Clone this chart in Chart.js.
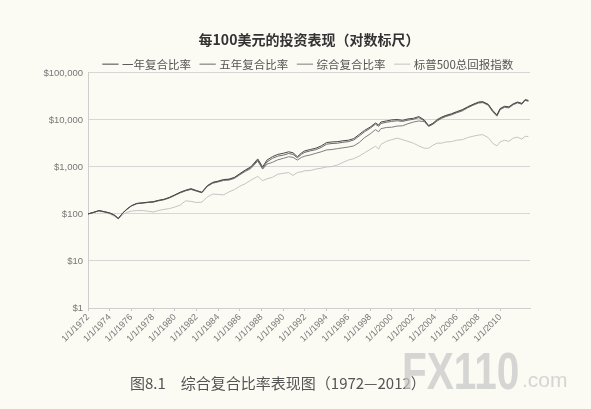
<!DOCTYPE html>
<html><head><meta charset="utf-8">
<script src="https://cdn.jsdelivr.net/npm/chart.js@4.4.1/dist/chart.umd.min.js"></script>
<style>
html,body{margin:0;padding:0;background:#fbfaf3;}
#wrap{position:relative;width:591px;height:409px;overflow:hidden;background:#fbfaf3;}
#c{position:absolute;left:0;top:0;}
#caption{position:absolute;left:130px;top:372px;font:15px "Noto Sans CJK SC",sans-serif;color:#555;white-space:nowrap;}
#wm{position:absolute;left:402px;top:345px;white-space:nowrap;color:rgba(200,200,200,0.75);}
#wm b{display:inline-block;font:bold 52px/1 "Liberation Sans",Arial,sans-serif;transform:scaleX(0.78);transform-origin:left center;}
#wm i{position:absolute;left:120px;top:24px;font:normal 21px/1 "Liberation Sans",Arial,sans-serif;font-style:normal;}
</style></head>
<body><div id="wrap"><canvas id="c" width="591" height="409"></canvas>
<div id="caption">图8.1　综合复合比率表现图（1972—2012）</div>
<div id="wm"><b>FX110</b><i>.com</i></div></div>
<script>
const years = [1972.0,1972.5,1973.0,1973.5,1974.0,1974.4,1974.8,1975.2,1975.6,1976.0,
1976.5,1977.0,1977.5,1978.0,1978.5,1979.0,1979.5,1980.0,1980.5,1981.0,
1981.5,1982.0,1982.5,1983.0,1983.5,1984.0,1984.5,1985.0,1985.5,1986.0,
1986.5,1987.0,1987.65,1988.1,1988.5,1989.0,1989.5,1990.0,1990.5,1990.9,
1991.3,1991.7,1992.0,1992.5,1993.0,1993.5,1994.0,1994.5,1995.0,1995.5,
1996.0,1996.5,1997.0,1997.5,1998.0,1998.5,1998.8,1999.0,1999.5,2000.0,
2000.5,2001.0,2001.5,2002.0,2002.5,2003.0,2003.4,2003.8,2004.2,2004.6,
2005.0,2005.5,2006.0,2006.5,2007.0,2007.5,2008.0,2008.4,2008.9,2009.3,
2009.7,2010.0,2010.4,2010.8,2011.2,2011.6,2012.0,2012.3,2012.6];

const oneYear = [100,108,118,112,105,95,80,105,128,150,
168,172,178,182,195,205,225,255,290,320,
345,315,290,400,470,500,540,550,600,720,
860,1000,1480,1000,1400,1650,1850,1950,2100,2000,
1650,2000,2200,2350,2500,2800,3300,3400,3450,3600,
3700,4000,4900,6000,7000,8600,7800,9000,9500,10000,
10200,9800,10500,10800,11800,10000,7600,8500,10200,11500,
12500,13500,15000,16500,19000,21500,24000,24500,21500,16000,
12800,17500,19500,19000,22000,24000,22500,27000,26000];

const fiveYear = [100,107,117,111,104,96,81,104,126,148,
166,171,176,180,193,203,222,250,285,315,
338,310,286,392,460,490,530,540,590,700,
830,960,1400,930,1280,1520,1700,1780,1930,1850,
1560,1870,2050,2200,2330,2600,3050,3150,3200,3350,
3450,3750,4550,5600,6600,8100,7300,8400,8900,9300,
9600,9300,9900,10300,11200,9600,7300,8200,9800,11000,
12100,13100,14500,16000,18500,21000,23300,23800,21000,15500,
12300,17000,19000,18500,21500,23500,22000,26500,25500];

const composite = [100,108,117,112,105,95,80,104,127,148,
165,170,175,178,190,200,218,248,280,310,
332,305,282,385,450,480,515,525,570,680,
800,920,1330,900,1150,1250,1420,1520,1650,1600,
1400,1600,1700,1800,1950,2100,2300,2350,2450,2550,
2650,2800,3300,4200,5000,6200,5600,6500,6900,7000,
7400,7500,8300,9000,9500,9200,7400,8100,9500,10800,
11800,12800,14200,15500,18000,20500,22800,23300,20500,15000,
12000,16500,18500,18000,21000,23000,21500,26000,25000];

const sp500 = [100,108,117,108,100,90,78,97,108,115,
118,118,115,110,118,125,130,140,155,190,
185,175,178,230,265,260,255,295,330,390,
440,520,630,510,560,600,700,730,760,660,
760,790,830,840,900,940,1000,1020,1100,1250,
1400,1500,1700,2000,2350,2750,2400,3000,3500,3800,
4100,3800,3500,3200,2800,2500,2500,2900,3200,3200,
3400,3450,3700,3800,4200,4500,4750,4850,4200,3200,
2800,3400,3700,3500,4100,4300,3900,4500,4400];

const seriesNames = ['一年复合比率','五年复合比率','综合复合比率','标普500总回报指数'];
const yTickValues = [1,10,100,1000,10000,100000];
const xTickYears = [1972,1974,1976,1978,1980,1982,1984,1986,1988,1990,1992,1994,1996,1998,2000,2002,2004,2006,2008,2010];

const seriesValues = [oneYear, fiveYear, composite, sp500];
const seriesColors = ['#484848','#6a6a6a','#7e7e7e','#c4c4c4'];

const legendTrim = {
  id: 'legendTrim',
  beforeLayout(chart) {
    const l = chart.legend;
    if (l && !l._trimmed) {
      const f = l.fit;
      l.fit = function() { f.call(this); this.height -= 7; };
      l._trimmed = true;
    }
  }
};

new Chart(document.getElementById('c'), {
  type: 'line',
  data: {
    datasets: seriesValues.map((vals, k) => ({
      label: seriesNames[k],
      data: years.map((x, i) => ({x: x, y: vals[i]})),
      borderColor: seriesColors[k],
      backgroundColor: seriesColors[k],
      borderWidth: 1,
      pointRadius: 0,
      pointStyle: 'line',
      tension: 0,
      fill: false
    }))
  },
  options: {
    responsive: false,
    devicePixelRatio: 1,
    animation: false,
    layout: {padding: {left: 0, right: 61, top: 0, bottom: 0}},
    plugins: {
      title: {
        display: true,
        text: '每100美元的投资表现（对数标尺）',
        fullSize: false,
        color: '#333',
        font: {family: '"Noto Sans CJK SC", sans-serif', size: 14, weight: 'bold', lineHeight: 1.1},
        padding: {top: 32, bottom: 0}
      },
      legend: {
        display: true,
        position: 'top',
        fullSize: false,
        labels: {
          usePointStyle: true,
          color: '#555',
          font: {family: '"Noto Sans CJK SC", sans-serif', size: 11.5},
          padding: 11
        }
      },
      tooltip: {enabled: false}
    },
    scales: {
      x: {
        type: 'linear',
        min: 1972,
        max: 2012.75,
        afterBuildTicks: (s) => { s.ticks = xTickYears.map(v => ({value: v})); },
        afterFit: (s) => { s.height = 101; },
        ticks: {
          autoSkip: false,
          maxRotation: 45,
          minRotation: 45,
          padding: 1,
          color: '#777',
          font: {family: '"Liberation Sans", Arial, sans-serif', size: 9},
          callback: (v) => '1/1/' + v
        },
        grid: {display: true, drawOnChartArea: false, tickLength: 3, color: '#c8c8c8'},
        border: {display: true, color: '#cfcfcf'}
      },
      y: {
        type: 'logarithmic',
        min: 1,
        max: 100000,
        afterBuildTicks: (s) => { s.ticks = yTickValues.map(v => ({value: v})); },
        afterFit: (s) => { s.width = 88; },
        ticks: {
          padding: 5,
          color: '#777',
          font: {family: '"Liberation Sans", Arial, sans-serif', size: 9.5},
          callback: (v) => '$' + Number(v).toLocaleString('en-US')
        },
        grid: {color: '#d6d6d6', lineWidth: 1, drawTicks: false},
        border: {display: true, color: '#cfcfcf'}
      }
    }
  },
  plugins: [legendTrim]
});
</script>
</body></html>
